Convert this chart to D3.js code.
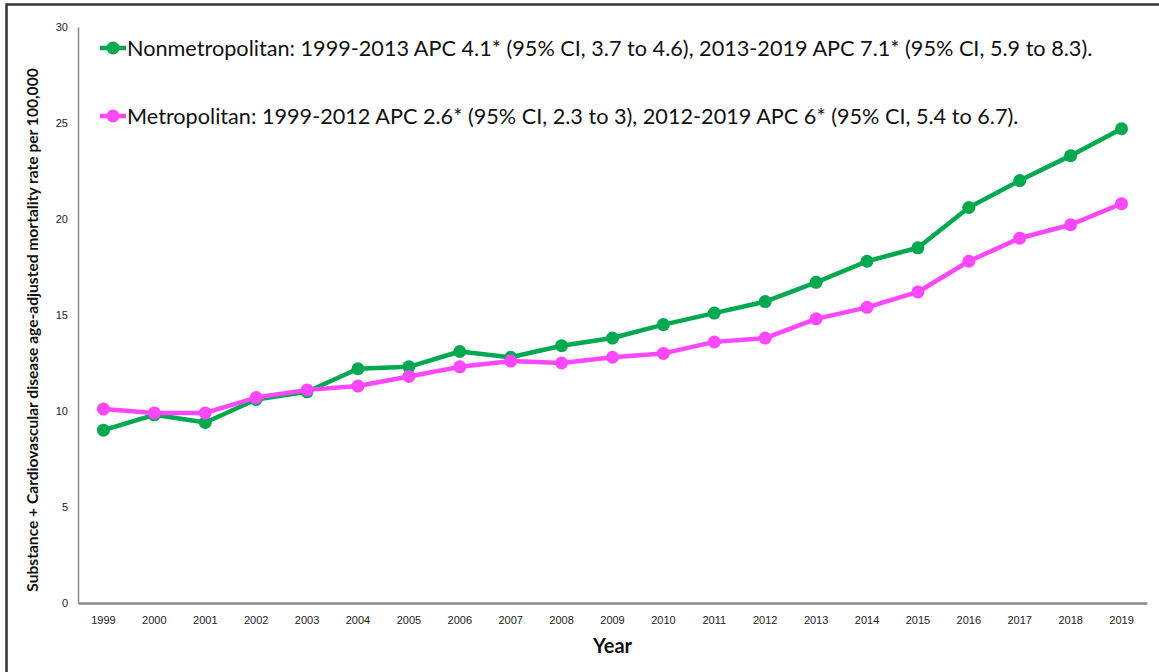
<!DOCTYPE html>
<html>
<head>
<meta charset="utf-8">
<script src="https://cdn.jsdelivr.net/npm/d3@7"></script>
<style>
  body { margin: 0; background: #fff; }
  svg { display: block; font-family: Lato, "Open Sans", sans-serif; }
  .axis text { fill: #222; }
</style>
</head>
<body>
<div id="chart"></div>
<script>
// data
const years = ['1999', '2000', '2001', '2002', '2003', '2004', '2005', '2006', '2007', '2008', '2009',
  '2010', '2011', '2012', '2013', '2014', '2015', '2016', '2017', '2018', '2019'];
const nonmetroValues = [9.0, 9.8, 9.4, 10.6, 11.0, 12.2, 12.3, 13.1, 12.8, 13.4, 13.8,
  14.5, 15.1, 15.7, 16.7, 17.8, 18.5, 20.6, 22.0, 23.3, 24.7];
const metroValues = [10.1, 9.9, 9.9, 10.7, 11.1, 11.3, 11.8, 12.3, 12.6, 12.5, 12.8,
  13.0, 13.6, 13.8, 14.8, 15.4, 16.2, 17.8, 19.0, 19.7, 20.8];
const yTicks = [0, 5, 10, 15, 20, 25, 30];
const seriesNames = [
  'Nonmetropolitan: 1999-2013 APC 4.1* (95% CI, 3.7 to 4.6), 2013-2019 APC 7.1* (95% CI, 5.9 to 8.3).',
  'Metropolitan: 1999-2012 APC 2.6* (95% CI, 2.3 to 3), 2012-2019 APC 6* (95% CI, 5.4 to 6.7).',
];
const xTitle = 'Year';
const yTitle = 'Substance + Cardiovascular disease age-adjusted mortality rate per 100,000';

const series = [
  { name: seriesNames[0], values: nonmetroValues, color: '#00a84f' },
  { name: seriesNames[1], values: metroValues, color: '#ff47ff' },
];

const width = 1159;
const height = 672;
const margin = { top: 27, right: 12, bottom: 69, left: 78 };
const innerW = width - margin.left - margin.right;
const innerH = height - margin.top - margin.bottom;

const svg = d3.select('#chart').append('svg')
  .attr('width', width)
  .attr('height', height);

// outer frame
svg.append('rect')
  .attr('x', 6.5).attr('y', 4.5)
  .attr('width', width + 10).attr('height', height + 10)
  .attr('fill', 'none')
  .attr('stroke', '#333')
  .attr('stroke-width', 2.5);

const g = svg.append('g')
  .attr('transform', `translate(${margin.left},${margin.top})`);

const x = d3.scaleBand().domain(years).range([0, innerW]);
const y = d3.scaleLinear().domain([0, 30]).range([innerH, 0]);

// y axis
const yAxisG = g.append('g')
  .attr('class', 'axis y-axis')
  .call(d3.axisLeft(y).tickValues(yTicks).tickSize(0).tickPadding(10));
yAxisG.select('.domain').attr('stroke', '#888').attr('stroke-width', 1.5);
yAxisG.selectAll('.tick text').attr('font-size', 11);

// x axis
const xAxisG = g.append('g')
  .attr('class', 'axis x-axis')
  .attr('transform', `translate(0,${innerH})`)
  .call(d3.axisBottom(x).tickSize(0).tickPadding(13));
xAxisG.select('.domain').attr('stroke', '#888').attr('stroke-width', 2.5);
xAxisG.selectAll('.tick text').attr('font-size', 11);

// axis titles
g.append('text')
  .attr('x', innerW / 2)
  .attr('y', innerH + 50)
  .attr('text-anchor', 'middle')
  .attr('font-size', 20)
  .attr('font-weight', 'bold')
  .attr('fill', '#111')
  .text(xTitle);

const yTitleText = g.append('text')
  .attr('transform', `translate(${-40},${innerH / 2 + 15}) rotate(-90)`)
  .attr('text-anchor', 'middle')
  .attr('font-size', 13)
  .attr('font-weight', 'bold')
  .attr('fill', '#111')
  .text(yTitle);
// reference title runs about 524px long
yTitleText.attr('font-size', 13 * 524 / yTitleText.node().getComputedTextLength());

// lines and markers
const line = d3.line()
  .x((d, i) => x(years[i]) + x.bandwidth() / 2)
  .y((d) => y(d));

// metro drawn last so it sits on top where they cross
series.forEach((s) => {
  g.append('path')
    .datum(s.values)
    .attr('fill', 'none')
    .attr('stroke', s.color)
    .attr('stroke-width', 4.5)
    .attr('stroke-linejoin', 'round')
    .attr('d', line);

  g.selectAll(null)
    .data(s.values)
    .join('circle')
    .attr('cx', (d, i) => x(years[i]) + x.bandwidth() / 2)
    .attr('cy', (d) => y(d))
    .attr('r', 6.5)
    .attr('fill', s.color);
});

// legend
const legend = g.append('g').attr('transform', 'translate(22,21)');
series.forEach((s, i) => {
  const row = legend.append('g').attr('transform', `translate(0,${i * 68})`);
  row.append('line')
    .attr('x1', 0).attr('x2', 26)
    .attr('stroke', s.color).attr('stroke-width', 4.5);
  row.append('circle').attr('cx', 13).attr('r', 6.5).attr('fill', s.color);
  row.append('text')
    .attr('x', 27)
    .attr('dy', '0.35em')
    .attr('font-size', 20)
    .attr('fill', '#111')
    .text(s.name);
});

// fit legend text width to the reference (first row ends near x=1093)
const firstText = legend.select('text').node();
const targetW = 966;
const fitSize = 20 * targetW / firstText.getComputedTextLength();
legend.selectAll('text').attr('font-size', fitSize);
</script>
</body>
</html>
